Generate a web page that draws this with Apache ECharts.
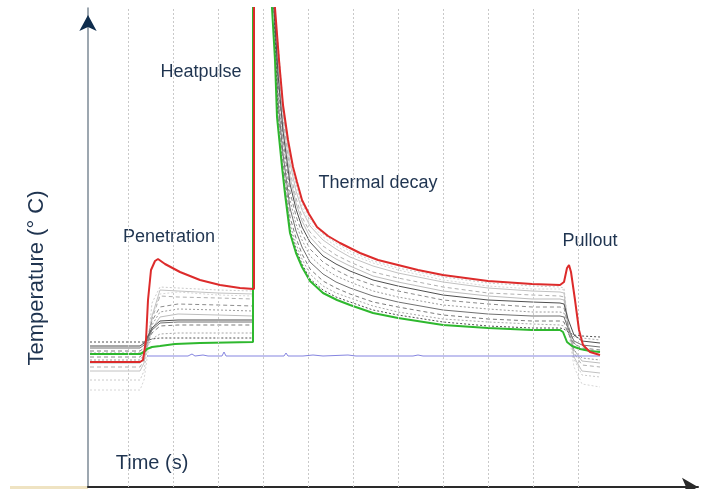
<!DOCTYPE html>
<html>
<head>
<meta charset="utf-8">
<script src="https://cdn.jsdelivr.net/npm/echarts@6/dist/echarts.min.js"></script>
<style>
  html, body { margin: 0; padding: 0; background: #fff; }
  #chart { width: 712px; height: 489px; }
</style>
</head>
<body>
<div id="chart"></div>
<script>
// time (s) and temperature in chart units
const gridTimes = [40, 85, 130, 175, 220, 265, 310, 355, 400, 445, 490]

const redCurve = [
  [2, 125], [52, 125], [55, 127], [58, 147], [60, 187], [63, 217], [67, 226], [70, 228],
  [77, 223], [92, 215], [112, 207], [132, 202], [152, 199], [166, 198], [166, 700],
  [180, 620], [187, 479], [191, 427], [195, 382], [200, 347], [205, 320], [209, 305],
  [214, 287], [221, 273], [229, 260], [240, 251], [252, 244], [272, 234], [290, 227],
  [310, 222], [330, 217], [355, 212], [400, 206], [444, 203], [472, 202], [476, 205],
  [479, 219], [481, 222], [483, 215], [487, 187], [491, 157], [495, 142], [502, 135], [512, 132]
]

const greenCurve = [
  [2, 133], [52, 133], [56, 135], [59, 138], [64, 140], [72, 141], [87, 143], [112, 144],
  [165, 145], [165, 650], [184, 479], [187, 427], [189, 370], [194, 320], [197, 293],
  [202, 254], [208, 234], [214, 220], [222, 206], [235, 194], [249, 187], [262, 182],
  [285, 174], [310, 169], [355, 162], [400, 159], [444, 157], [472, 157], [475, 155],
  [479, 145], [484, 141], [492, 138], [502, 136], [512, 135]
]

const blueCurve = [
  [59, 131], [100, 131], [104, 133], [107, 131], [115, 132], [120, 131], [134, 131],
  [136, 135], [138, 131], [196, 131], [198, 134], [200, 131], [215, 131], [225, 132],
  [235, 131], [260, 132], [268, 131], [325, 131], [330, 132], [335, 131], [512, 131]
]

const grayTimes = [2, 52, 56, 60, 64, 72, 90, 130, 165, 165, 186, 190, 195, 202, 208, 214,
  222, 235, 248, 262, 285, 310, 355, 400, 444, 472, 476, 480, 486, 494, 512]

const gray1 = [107, 107, 116, 143, 184, 200, 199, 197, 196, 650, 480, 444, 383, 332, 303, 284, 268, 253, 244, 236, 226, 219, 210, 204, 201, 200, 199, 164, 128, 112, 110]
const gray2 = [116, 116, 124, 147, 171, 197, 196, 194, 193, 650, 480, 435, 375, 324, 296, 277, 261, 247, 238, 230, 221, 214, 205, 199, 196, 195, 194, 163, 130, 116, 114]
const gray3 = [120, 120, 127, 148, 168, 191, 190, 189, 188, 650, 480, 426, 368, 316, 289, 270, 255, 241, 232, 225, 215, 209, 200, 194, 192, 191, 190, 163, 134, 122, 120]
const gray4 = [141, 141, 144, 151, 159, 166, 167, 167, 167, 650, 480, 413, 356, 303, 278, 260, 245, 231, 223, 216, 207, 201, 192, 187, 185, 184, 183, 168, 152, 146, 144]
const gray5 = [130, 130, 135, 151, 166, 180, 183, 182, 181, 650, 480, 404, 348, 295, 271, 254, 238, 225, 217, 210, 202, 196, 187, 183, 180, 180, 179, 162, 144, 137, 135]
const gray6 = [127, 127, 132, 147, 162, 175, 178, 177, 176, 650, 480, 395, 341, 287, 263, 247, 231, 219, 211, 205, 196, 190, 182, 178, 175, 175, 174, 156, 137, 129, 127]
const gray7 = [139, 139, 142, 149, 157, 164, 165, 165, 165, 650, 480, 386, 333, 279, 256, 240, 225, 213, 205, 199, 191, 185, 177, 173, 171, 171, 170, 159, 146, 142, 140]
const gray8 = [136, 136, 139, 146, 154, 161, 162, 162, 162, 650, 480, 378, 325, 270, 249, 233, 218, 206, 199, 193, 185, 180, 172, 168, 166, 166, 165, 154, 143, 139, 137]
const gray9 = [134, 134, 136, 142, 148, 153, 154, 154, 154, 650, 480, 371, 319, 264, 243, 228, 213, 201, 194, 189, 181, 175, 168, 165, 163, 162, 161, 156, 150, 149, 147]
const gray10 = [145, 145, 145, 147, 148, 149, 149, 149, 149, 650, 480, 364, 314, 258, 238, 223, 208, 197, 190, 185, 177, 172, 165, 161, 159, 159, 158, 155, 152, 151, 150]
const gray11 = [97, 97, 107, 135, 170, 193, 195, 192, 191, 650, 480, 439, 379, 328, 300, 280, 264, 250, 241, 233, 224, 217, 207, 201, 198, 198, 197, 159, 120, 103, 100]
const gray12 = [124, 124, 129, 143, 158, 170, 173, 172, 171, 650, 480, 420, 362, 310, 284, 266, 250, 236, 228, 221, 211, 205, 196, 191, 188, 188, 187, 162, 137, 126, 124]

const grays = [
  { values: gray11, color: '#d6d6d6', type: [2, 2] },
  { values: gray1, color: '#cacaca', type: [2, 2] },
  { values: gray2, color: '#c2c2c2', type: 'solid' },
  { values: gray3, color: '#b0b0b0', type: [4, 3] },
  { values: gray12, color: '#bdbdbd', type: 'solid' },
  { values: gray5, color: '#8c8c8c', type: [4, 3] },
  { values: gray6, color: '#9c9c9c', type: [2, 2] },
  { values: gray7, color: '#707070', type: 'solid' },
  { values: gray8, color: '#7c7c7c', type: [4, 3] },
  { values: gray9, color: '#a8a8a8', type: [2, 2] },
  { values: gray10, color: '#505050', type: [2, 2] },
  { values: gray4, color: '#4f4f4f', type: 'solid' }
]

const textColor = '#1f3450'
const font = '"Liberation Sans", Arial, sans-serif'

const chart = echarts.init(document.getElementById('chart'), null, { renderer: 'canvas' })

const series = [
  {
    name: 'grid',
    type: 'line',
    data: [],
    silent: true,
    z: 1,
    markLine: {
      silent: true,
      symbol: 'none',
      label: { show: false },
      lineStyle: { color: '#c9c9c9', type: [2, 2], width: 1 },
      data: gridTimes.map((t) => ({ xAxis: t }))
    }
  }
]

grays.forEach((g, i) => {
  series.push({
    name: 'probe ' + (i + 1),
    type: 'line',
    showSymbol: false,
    z: 2,
    data: grayTimes.map((t, k) => [t, g.values[k]]),
    lineStyle: { color: g.color, width: 1, type: g.type }
  })
})

series.push(
  {
    name: 'water',
    type: 'line',
    showSymbol: false,
    z: 3,
    data: blueCurve,
    lineStyle: { color: '#8585e0', width: 1 }
  },
  {
    name: 'min',
    type: 'line',
    showSymbol: false,
    z: 4,
    data: greenCurve,
    lineStyle: { color: '#2eb82e', width: 2 }
  },
  {
    name: 'max',
    type: 'line',
    showSymbol: false,
    z: 5,
    data: redCurve,
    lineStyle: { color: '#dd2b2b', width: 2 }
  }
)

const option = {
  animation: false,
  backgroundColor: '#fff',
  grid: { left: 88, right: 14, top: 8, bottom: 2 },
  xAxis: {
    type: 'value',
    min: 0,
    max: 610,
    axisLine: {
      show: true,
      symbol: ['none', 'arrow'],
      symbolSize: [14, 16],
      lineStyle: { color: '#2a2a2a', width: 2 }
    },
    axisTick: { show: false },
    axisLabel: { show: false },
    splitLine: { show: false }
  },
  yAxis: [
    {
      type: 'value',
      min: 0,
      max: 479,
      axisLine: { show: true, lineStyle: { color: '#7d8a96', width: 1.5 } },
      axisTick: { show: false },
      axisLabel: { show: false },
      splitLine: { show: false }
    },
    {
      // arrow head only, navy
      type: 'value',
      position: 'left',
      min: 0,
      max: 479,
      axisLine: {
        show: true,
        symbol: ['none', 'arrow'],
        symbolSize: [13, 16],
        symbolOffset: [0, -7],
        lineStyle: { color: '#0f2d4d', width: 0 }
      },
      axisTick: { show: false },
      axisLabel: { show: false },
      splitLine: { show: false }
    }
  ],
  graphic: [
    { type: 'rect', shape: { x: 10, y: 486, width: 78, height: 3 }, style: { fill: '#efe3c2' }, silent: true },
    { type: 'text', x: 201, y: 72, style: { text: 'Heatpulse', font: '18px ' + font, fill: textColor, align: 'center', verticalAlign: 'middle' } },
    { type: 'text', x: 169, y: 237, style: { text: 'Penetration', font: '18px ' + font, fill: textColor, align: 'center', verticalAlign: 'middle' } },
    { type: 'text', x: 378, y: 183, style: { text: 'Thermal decay', font: '18px ' + font, fill: textColor, align: 'center', verticalAlign: 'middle' } },
    { type: 'text', x: 590, y: 241, style: { text: 'Pullout', font: '18px ' + font, fill: textColor, align: 'center', verticalAlign: 'middle' } },
    { type: 'text', x: 152, y: 463, style: { text: 'Time (s)', font: '20px ' + font, fill: textColor, align: 'center', verticalAlign: 'middle' } },
    { type: 'text', x: 37, y: 278, rotation: Math.PI / 2, style: { text: 'Temperature (° C)', font: '22px ' + font, fill: textColor, align: 'center', verticalAlign: 'middle' } }
  ],
  series
}

chart.setOption(option)
</script>
</body>
</html>
